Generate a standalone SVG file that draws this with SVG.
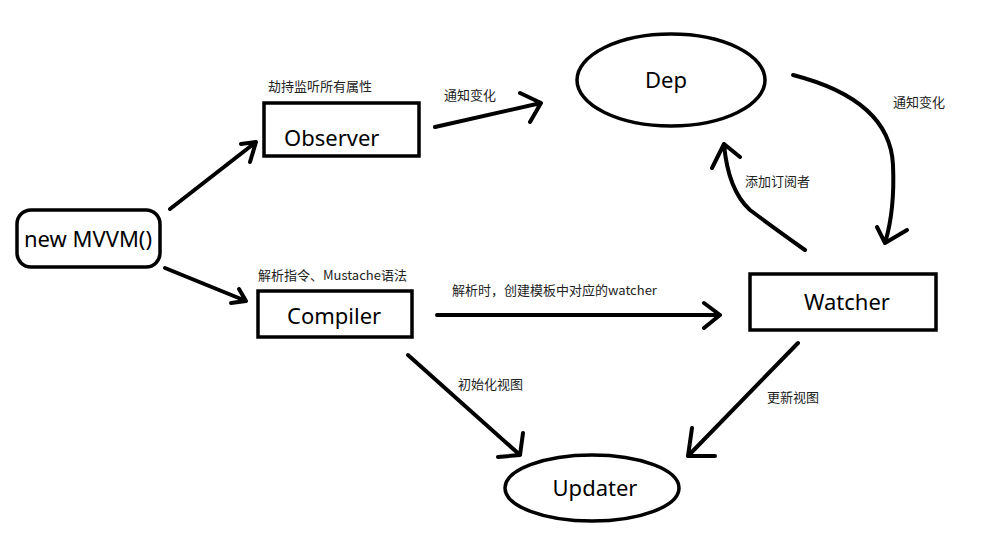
<svg xmlns="http://www.w3.org/2000/svg" width="994" height="540" viewBox="0 0 994 540">
<style>
.box{fill:#fff;stroke:#000;stroke-width:3.5}
.ln{fill:none;stroke:#000;stroke-width:4;stroke-linecap:round;stroke-linejoin:round}
.nt{font-family:"Noto Sans","Open Sans","Noto Sans CJK SC",sans-serif;font-size:22px;fill:#000}
.lb{font-family:"Noto Sans CJK SC","Noto Sans",sans-serif;font-size:13px;fill:#222}
</style>
<rect width="994" height="540" fill="#fff"/>
<g id="connectors">
<path class="ln" d="M170,209 L256,142 M241,144 L256,142 L250,162"/>
<path class="ln" d="M435,127 L541,103 M520,93 L541,103 L530,122"/>
<path class="ln" d="M793,75 Q890,100 893,165 Q895,210 885,243 M877,227 L885,243 L907,230"/>
<path class="ln" d="M805,250 Q770,225 750,210 Q728,190 724,144 M712,168 L724,144 L740,157"/>
<path class="ln" d="M165,268 L246,301 M239,289 L246,301 L231,303"/>
<path class="ln" d="M437,315 L720,315 M704,303 L720,315 L704,328"/>
<path class="ln" d="M408,355 L520,455 M523,433 L520,455 L498,457"/>
<path class="ln" d="M798,343 L688,456 M692,428 L688,456 L715,456"/>
</g>
<g id="lbl">
<text class="lb" x="268" y="91">劫持监听所有属性</text>
<text class="lb" x="444" y="100">通知变化</text>
<text class="lb" x="893" y="107">通知变化</text>
<text class="lb" x="745" y="186">添加订阅者</text>
<text class="lb" x="258" y="280">解析指令、Mustache语法</text>
<text class="lb" x="452" y="295">解析时，创建模板中对应的watcher</text>
<text class="lb" x="458" y="389">初始化视图</text>
<text class="lb" x="767" y="402">更新视图</text>
</g>
<g id="mvvm">
<rect class="box" x="17" y="210" width="143" height="57" rx="14"/>
<text class="nt" x="88" y="247" text-anchor="middle">new MVVM()</text>
</g>
<g id="observer">
<rect class="box" x="264" y="103" width="155" height="53"/>
<text class="nt" x="284" y="146">Observer</text>
</g>
<g id="dep">
<ellipse class="box" cx="671" cy="80" rx="94" ry="46"/>
<text class="nt" x="666" y="88" text-anchor="middle">Dep</text>
</g>
<g id="compiler">
<rect class="box" x="258" y="291" width="154" height="46"/>
<text class="nt" x="287" y="324">Compiler</text>
</g>
<g id="watcher">
<rect class="box" x="750" y="274" width="186" height="56"/>
<text class="nt" x="804" y="310">Watcher</text>
</g>
<g id="updater">
<ellipse class="box" cx="592" cy="488" rx="87" ry="33"/>
<text class="nt" x="595" y="496" text-anchor="middle">Updater</text>
</g>
</svg>
